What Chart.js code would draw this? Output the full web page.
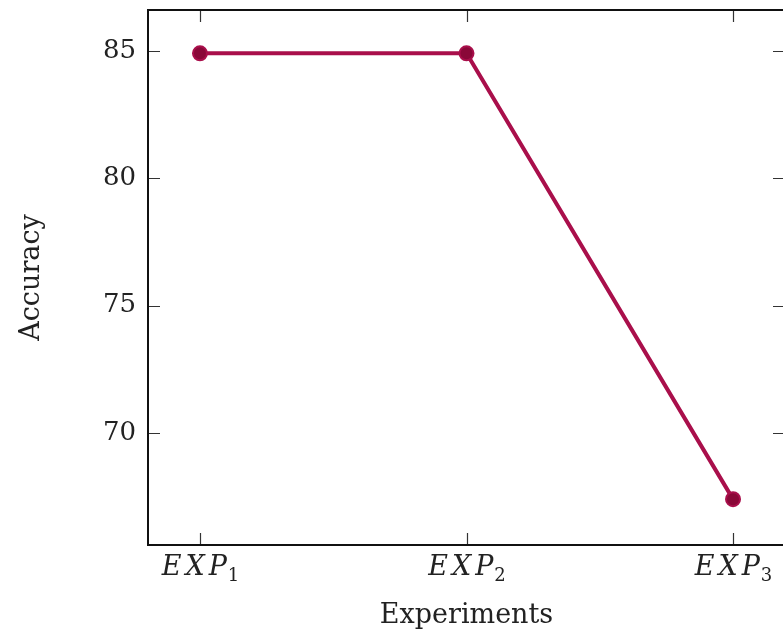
<!DOCTYPE html>
<html>
<head>
<meta charset="utf-8">
<script src="https://cdn.jsdelivr.net/npm/chart.js@4"></script>
<style>
  html, body { margin: 0; padding: 0; overflow: hidden; background: #fff; }
  #wrap { width: 800px; height: 635px; position: relative; }
</style>
</head>
<body>
<div id="wrap"><canvas id="chart"></canvas></div>
<script>
const categories = ["EXP", "EXP", "EXP"];
const subscripts = ["1", "2", "3"];
const accuracy = [84.9, 84.9, 67.4];
const yTicks = [70, 75, 80, 85];

const lineColor = "#a90f4b";
const serif = "'DejaVu Serif', 'Liberation Serif', serif";

// pgfplots style box with inward ticks on every side
const frame = {
    id: "frame",
    beforeDatasetsDraw(chart) {
        const { ctx, chartArea: a, scales } = chart;
        const len = 12;
        ctx.save();
        ctx.strokeStyle = "#333";
        ctx.lineWidth = 1.2;
        ctx.beginPath();
        scales.x.ticks.forEach(t => {
            const px = Math.round(scales.x.getPixelForValue(t.value)) + 0.5;
            ctx.moveTo(px, a.bottom); ctx.lineTo(px, a.bottom - len);
            ctx.moveTo(px, a.top); ctx.lineTo(px, a.top + len);
        });
        scales.y.ticks.forEach(t => {
            const py = Math.round(scales.y.getPixelForValue(t.value)) + 0.5;
            ctx.moveTo(a.left, py); ctx.lineTo(a.left + len, py);
            ctx.moveTo(a.right, py); ctx.lineTo(a.right - len, py);
        });
        ctx.stroke();
        ctx.strokeStyle = "#111";
        ctx.lineWidth = 2;
        ctx.strokeRect(a.left, a.top, a.right - a.left, a.bottom - a.top);
        ctx.restore();
    }
};

// x tick labels as math italic with a lowered subscript
const subLabels = {
    id: "subLabels",
    afterDraw(chart) {
        const { ctx, chartArea: a, scales } = chart;
        const base = a.bottom + 30;
        const sp = 4;
        ctx.save();
        ctx.fillStyle = "#222";
        ctx.textBaseline = "alphabetic";
        ctx.textAlign = "left";
        scales.x.ticks.forEach((t, i) => {
            const px = scales.x.getPixelForValue(t.value);
            ctx.font = "italic 27px " + serif;
            ctx.letterSpacing = sp + "px";
            const w1 = ctx.measureText(categories[i]).width - sp;
            ctx.font = "18px " + serif;
            ctx.letterSpacing = "0px";
            const w2 = ctx.measureText(subscripts[i]).width;
            const x0 = px - (w1 + w2) / 2;
            ctx.font = "italic 27px " + serif;
            ctx.letterSpacing = sp + "px";
            ctx.fillText(categories[i], x0, base);
            ctx.font = "18px " + serif;
            ctx.letterSpacing = "0px";
            ctx.fillText(subscripts[i], x0 + w1 + 1, base + 6);
        });
        ctx.restore();
    }
};

new Chart(document.getElementById("chart"), {
    type: "line",
    plugins: [frame, subLabels],
    data: {
        datasets: [{
            data: accuracy.map((v, i) => ({ x: i + 1, y: v })),
            borderColor: lineColor,
            borderWidth: 4,
            pointRadius: 7,
            pointBorderWidth: 2,
            pointBackgroundColor: "#8a0838",
            pointBorderColor: lineColor,
            tension: 0,
        }],
    },
    options: {
        responsive: true,
        maintainAspectRatio: false,
        animation: false,
        layout: { padding: { top: 10, right: 15, left: 0, bottom: 0 } },
        plugins: { legend: { display: false }, tooltip: false },
        scales: {
            x: {
                type: "linear",
                min: 0.805,
                max: 3.195,
                grid: { display: false, drawTicks: false },
                border: { display: false },
                afterBuildTicks: s => { s.ticks = categories.map((c, i) => ({ value: i + 1 })); },
                afterFit: s => { s.height = 90; s.paddingLeft = 0; s.paddingRight = 0; },
                ticks: { display: false },
                title: {
                    display: true,
                    text: "Experiments",
                    color: "#222",
                    padding: { top: 0, bottom: 3 },
                    font: { family: serif, size: 27, lineHeight: 1.2 },
                },
            },
            y: {
                min: 65.6,
                max: 86.6,
                grid: { display: false, drawTicks: false },
                border: { display: false },
                afterBuildTicks: s => { s.ticks = yTicks.map(v => ({ value: v })); },
                afterFit: s => { s.width = 148; s.paddingTop = 0; s.paddingBottom = 0; },
                ticks: {
                    padding: 12,
                    color: "#222",
                    font: { family: serif, size: 26 },
                },
                title: {
                    display: true,
                    text: "Accuracy",
                    color: "#222",
                    padding: { top: 16, bottom: 0 },
                    font: { family: serif, size: 27, lineHeight: 1.2 },
                },
            },
        },
    },
});
</script>
</body>
</html>
